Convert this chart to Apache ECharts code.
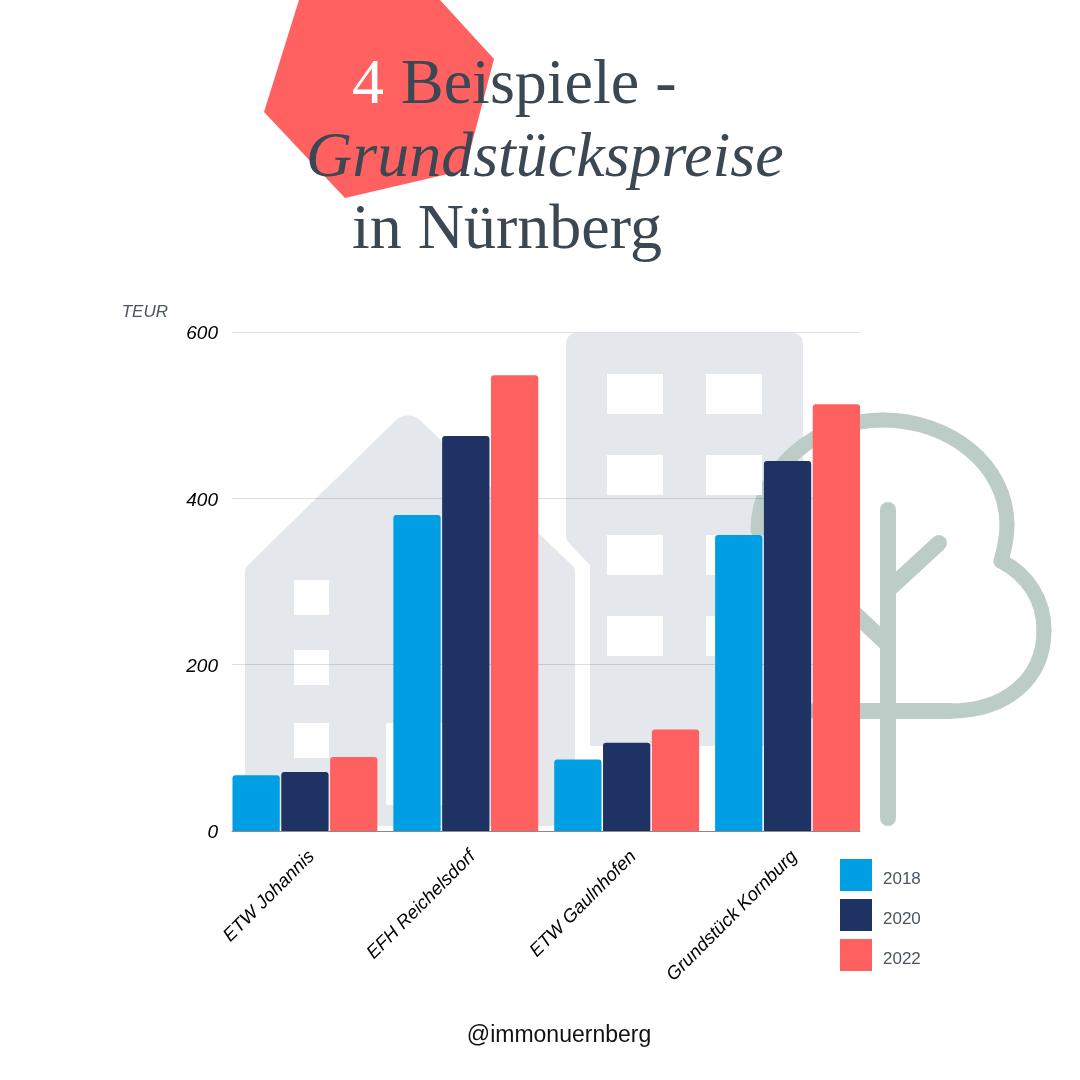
<!DOCTYPE html>
<html>
<head>
<meta charset="utf-8">
<title>Grundstückspreise in Nürnberg</title>
<script src="https://cdn.jsdelivr.net/npm/echarts@6/dist/echarts.min.js"></script>
<style>
    html, body { margin: 0; padding: 0; background: #ffffff; }
    #chart { width: 1080px; height: 1080px; }
</style>
</head>
<body>
<div id="chart"></div>
<script>
var categories = ['ETW Johannis', 'EFH Reichelsdorf', 'ETW Gaulnhofen', 'Grundstück Kornburg'];
var values2018 = [67, 380, 86, 356];
var values2020 = [71, 475, 106, 445];
var values2022 = [89, 548, 122, 513];
var yTicks = [0, 200, 400, 600];

var DARK = '#3b4752';
var BLUE = '#009fe3';
var NAVY = '#1f3264';
var CORAL = '#ff6060';
var SHAPE = '#e4e7ec';
var TREE = '#bccdc8';

function windowRect(x, y, w, h) {
    return { type: 'rect', z: -8, shape: { x: x, y: y, width: w, height: h }, style: { fill: '#ffffff' } };
}

function treeCurve(x1, y1, cx1, cy1, cx2, cy2, x2, y2) {
    return {
        type: 'bezierCurve', z: -9,
        shape: { x1: x1, y1: y1, cpx1: cx1, cpy1: cy1, cpx2: cx2, cpy2: cy2, x2: x2, y2: y2 },
        style: { fill: 'none', stroke: TREE, lineWidth: 15, lineCap: 'round' }
    };
}

function treeLine(x1, y1, x2, y2) {
    return {
        type: 'line', z: -9,
        shape: { x1: x1, y1: y1, x2: x2, y2: y2 },
        style: { stroke: TREE, lineWidth: 16, lineCap: 'round' }
    };
}

function titleText(text, x, y, color, italic) {
    return {
        type: 'text', z: 5,
        style: {
            text: text, x: x, y: y, fill: color,
            font: (italic ? 'italic ' : '') + '64px "Liberation Serif"'
        }
    };
}

// background drawing, decoration only
var decoration = [
    { type: 'polygon', z: -10, shape: { points: [[299, 0], [440, 0], [494, 59], [465, 170], [345, 198], [264, 112]] }, style: { fill: CORAL } },
    // house
    {
        type: 'polygon', z: -10,
        shape: { points: [[252, 571], [400, 426], [416, 426], [568, 571], [568, 819], [252, 819]] },
        style: { fill: SHAPE, stroke: SHAPE, lineWidth: 14, lineJoin: 'round' }
    },
    { type: 'circle', z: -10, shape: { cx: 408, cy: 433.5, r: 18 }, style: { fill: SHAPE } },
    windowRect(294, 580, 35, 35),
    windowRect(294, 650, 35, 35),
    windowRect(294, 723, 35, 35),
    windowRect(386, 723, 70, 82),
    // block of flats
    {
        type: 'polygon', z: -9,
        shape: { points: [[576, 343], [793, 343], [793, 736], [600, 736], [600, 561], [576, 536]] },
        style: { fill: SHAPE, stroke: SHAPE, lineWidth: 20, lineJoin: 'round' }
    },
    { type: 'rect', z: -9, shape: { x: 590, y: 726, width: 30, height: 20 }, style: { fill: SHAPE } },
    windowRect(607, 374, 56, 40), windowRect(706, 374, 56, 40),
    windowRect(607, 455, 56, 40), windowRect(706, 455, 56, 40),
    windowRect(607, 535, 56, 40), windowRect(706, 535, 56, 40),
    windowRect(607, 616, 56, 40), windowRect(706, 616, 56, 40),
    // tree
    treeCurve(883, 420, 950, 420, 1007, 465, 1007, 525),
    treeCurve(1007, 525, 1007, 540, 1004, 550, 1001, 561),
    treeCurve(1001, 561, 1028, 575, 1044, 600, 1044, 630),
    treeCurve(1044, 630, 1044, 680, 1005, 711, 950, 711),
    treeCurve(883, 420, 815, 420, 758, 470, 758, 530),
    treeLine(950, 711, 815, 711),
    treeLine(888, 510, 888, 818),
    treeLine(888, 590, 939, 543),
    treeLine(888, 645, 830, 590),
    // title and footer
    titleText('4', 352, 54, '#ffffff', false),
    titleText('Beispiele -', 401, 54, DARK, false),
    titleText('Grundstückspreise', 306, 127, DARK, true),
    titleText('in Nürnberg', 352, 199, DARK, false),
    {
        type: 'text', z: 5,
        style: {
            text: '@immonuernberg', x: 559, y: 1024, fill: '#111111', textAlign: 'center',
            font: '23px "Liberation Sans"'
        }
    }
];

function barSeries(name, values, color) {
    return {
        name: name,
        type: 'bar',
        xAxisIndex: 1,
        yAxisIndex: 1,
        barWidth: 47.3,
        barGap: '3.2%',
        data: values,
        itemStyle: { color: color, borderRadius: [3, 3, 0, 0] }
    };
}

var chart = echarts.init(document.getElementById('chart'), null, { renderer: 'canvas' });
chart.setOption({
    animation: false,
    backgroundColor: '#ffffff',
    textStyle: { fontFamily: 'Liberation Sans' },
    graphic: { elements: decoration },
    legend: {
        orient: 'vertical',
        left: 840,
        top: 859,
        padding: 0,
        itemWidth: 32,
        itemHeight: 32,
        itemGap: 8,
        icon: 'rect',
        selectedMode: false,
        formatter: '{a|{name}}',
        textStyle: {
            rich: { a: { color: '#4a5560', fontSize: 17, padding: [8, 0, 0, 6] } }
        },
        data: ['2018', '2020', '2022']
    },
    // grid 0 carries the value scale, grid 1 the wider bar band
    grid: [
        { left: 232, top: 332, width: 628, height: 499 },
        { left: 224.5, top: 332, width: 643.5, height: 499 }
    ],
    xAxis: [
        {
            type: 'category', gridIndex: 0, data: categories,
            axisLine: { show: true, lineStyle: { color: '#8a8a8a', width: 1 } },
            axisTick: { show: false }, axisLabel: { show: false }
        },
        {
            type: 'category', gridIndex: 1, data: categories,
            axisLine: { show: false }, axisTick: { show: false },
            axisLabel: {
                rotate: 45, margin: 16, interval: 0, color: '#000000',
                fontStyle: 'italic', fontSize: 18.5, fontFamily: 'Liberation Sans',
                verticalAlign: 'top'
            }
        }
    ],
    yAxis: [
        {
            type: 'value', gridIndex: 0, min: 0, max: 600, interval: 200,
            name: 'TEUR', nameLocation: 'end', nameGap: 11,
            nameTextStyle: { color: '#4a5560', fontStyle: 'italic', fontSize: 17, align: 'right', padding: [0, 64, 0, 0] },
            axisLine: { show: false }, axisTick: { show: false },
            axisLabel: {
                margin: 14, color: '#000000', fontStyle: 'italic', fontSize: 19,
                verticalAlign: 'top', lineHeight: 4,
                customValues: yTicks
            },
            splitLine: { show: true, lineStyle: { color: 'rgba(0,0,0,0.13)', width: 1 } }
        },
        {
            type: 'value', gridIndex: 1, min: 0, max: 600, interval: 200, show: false,
            splitLine: { show: false }
        }
    ],
    series: [
        barSeries('2018', values2018, BLUE),
        barSeries('2020', values2020, NAVY),
        barSeries('2022', values2022, CORAL)
    ]
});
</script>
</body>
</html>
